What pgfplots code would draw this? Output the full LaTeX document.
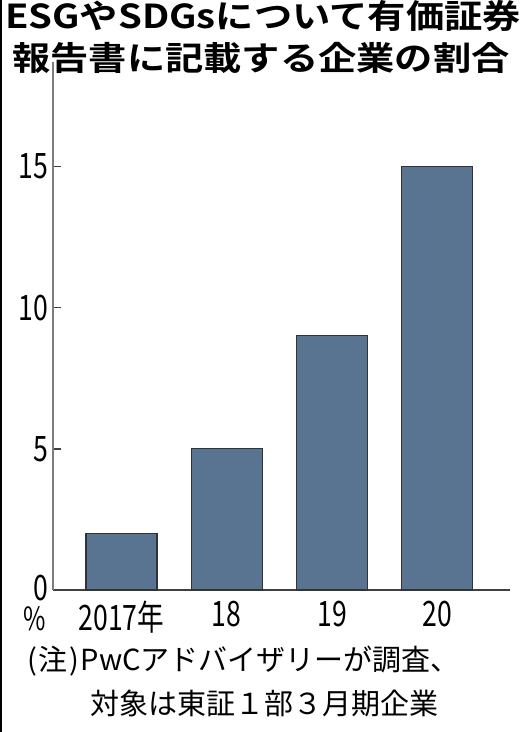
\documentclass[border=0pt]{standalone}
\usepackage{fontspec}
\setmainfont{Noto Sans CJK JP}
\newfontfamily\titlefont[FakeStretch=1.16]{Noto Sans CJK JP Bold}
\newfontfamily\tickfont[FakeStretch=0.76]{Noto Sans CJK JP}
\usepackage{pgfplots}
\pgfplotsset{compat=1.18}
\definecolor{barfill}{RGB}{88,116,145}
\definecolor{axisgray}{RGB}{125,125,125}
\begin{document}
\begin{tikzpicture}[x=1bp,y=1bp]
\useasboundingbox (0,0) rectangle (526,-732);
\fill[white] (0,0) rectangle (526,-732);
\fill[black] (0,0) rectangle (2,-732);
\node[font=\titlefont\fontsize{33bp}{40bp}\selectfont, inner sep=0, anchor=center] at (263,-16) {ESGやSDGsについて有価証券};
\node[font=\titlefont\fontsize{33bp}{40bp}\selectfont, inner sep=0, anchor=center] at (261,-58) {報告書に記載する企業の割合};
\begin{axis}[
  at={(53bp,-590bp)}, anchor=south west,
  scale only axis, width=457bp, height=528bp,
  xmin=-0.65, xmax=3.69, ymin=0, ymax=18.7,
  ybar, bar width=71bp,
  axis x line=bottom, axis y line=left,
  x axis line style={-, line width=1.8bp, draw=black!75},
  y axis line style={-, line width=1.8bp, draw=axisgray},
  xtick={0,1,2,3}, xticklabels={2017年,18,19,20},
  major x tick style={draw=none},
  ytick={0,5,10,15},
  tick align=inside, major tick length=8bp,
  major y tick style={line width=1.5bp, draw=black!75},
  ticklabel style={font=\tickfont\fontsize{35bp}{35bp}\selectfont, inner sep=0pt},
  /pgf/number format/assume math mode=true,
  yticklabel style={xshift=-5bp},
  yticklabel={\ifdim\tick pt=0pt \raisebox{4bp}{\pgfmathprintnumber{\tick}}\else\pgfmathprintnumber{\tick}\fi},
  xticklabel style={yshift=-11bp},
]
\addplot[fill=barfill, draw=black!80, line width=1.2bp] coordinates {(0,2) (1,5) (2,9) (3,15)};
\end{axis}
\node[font=\tickfont\fontsize{32bp}{32bp}\selectfont, inner sep=0] at (35,-619) {\%};
\node[anchor=west, font=\fontsize{29bp}{29bp}\selectfont, inner sep=0] at (27,-661) {(\hspace{2bp}注\hspace{2bp})\hspace{1bp}PwCアドバイザリーが調査、};
\node[anchor=west, font=\fontsize{29bp}{29bp}\selectfont, inner sep=0] at (90,-703) {対象は東証１部３月期企業};
\end{tikzpicture}
\end{document}
